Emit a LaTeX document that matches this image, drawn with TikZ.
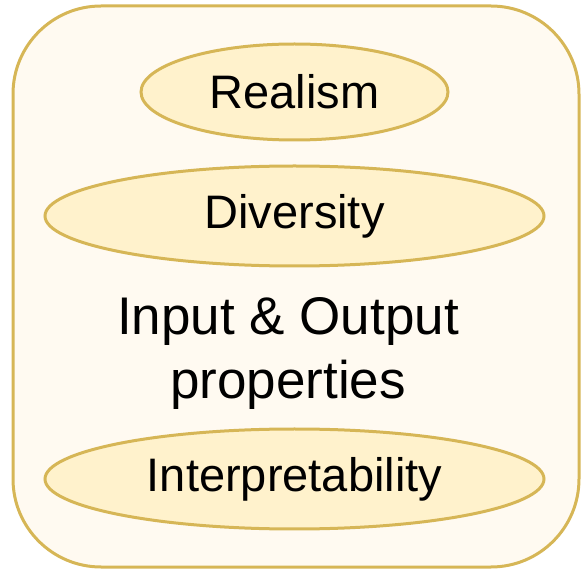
\documentclass[tikz,border=0pt]{standalone}
\usepackage{fontspec}
\setmainfont{Liberation Sans}
\usetikzlibrary{shapes.geometric}

\definecolor{goldline}{HTML}{D6B656}
\definecolor{creamfill}{HTML}{FFF2CC}
\definecolor{paperfill}{HTML}{FFFAF1}

\tikzset{property/.style={ellipse, draw=goldline, fill=creamfill,
  line width=3pt, inner sep=0pt, font=\fontsize{47}{56}\selectfont}}

\begin{document}
\begin{tikzpicture}[x=1pt, y=-1pt]
  \useasboundingbox (0,0) rectangle (582,572);

  % -- outer box
  \node (group) [draw=goldline, fill=paperfill, line width=3pt,
        rounded corners=88pt, minimum width=566pt, minimum height=561pt]
        at (296,286.5) {};

  % -- properties
  \node (realism) [property, minimum width=307pt, minimum height=96pt]
        at (294.5,92) {Realism};
  \node (diversity) [property, minimum width=499pt, minimum height=100pt]
        at (294.5,216) {Diversity};
  \node (interp) [property, minimum width=499pt, minimum height=100pt]
        at (294.5,479) {Interpretability};

  % title in the middle
  \node (title) [align=center, font=\fontsize{53}{64}\selectfont]
        at (288,353) {Input \& Output\\properties};
\end{tikzpicture}
\end{document}
